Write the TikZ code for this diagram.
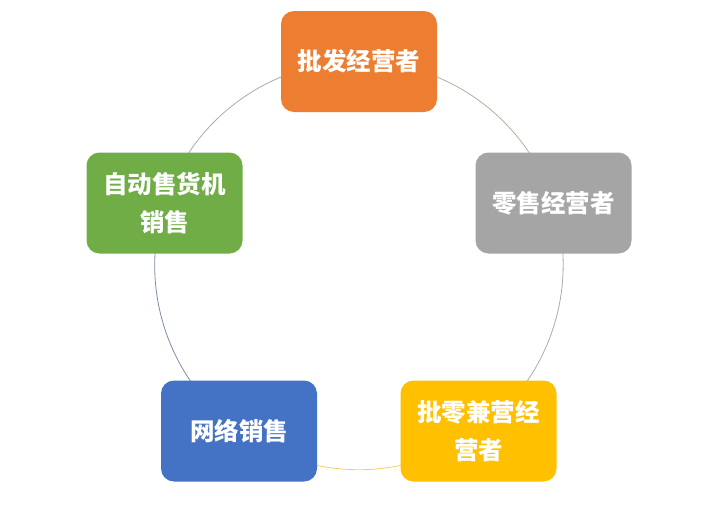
\documentclass[tikz,border=0pt]{standalone}
\usepackage{fontspec}
\newfontfamily\cjk{Noto Sans CJK SC}
\usetikzlibrary{backgrounds}
\definecolor{orange500}{HTML}{ED7D31}
\definecolor{grey500}  {HTML}{A5A5A5}
\definecolor{gold500}  {HTML}{FFC000}
\definecolor{blue500}  {HTML}{4472C4}
\definecolor{green500} {HTML}{70AD47}
\definecolor{arctan}   {HTML}{B8AC9E}
\definecolor{arcgrey}  {HTML}{ABABAB}
\definecolor{arcgold}  {HTML}{F5D15A}
\definecolor{arcblue}  {HTML}{7D8BA8}
\tikzset{
  role/.style ={rounded corners=13pt, minimum width=156pt,
                minimum height=101pt, inner sep=0pt, align=center,
                text=white, font=\cjk\bfseries\fontsize{24.5}{38}\selectfont},
  ring/.style ={line width=0.8pt, bend left=36, looseness=0.94}
}
\begin{document}
\begin{tikzpicture}[x=1pt, y=1pt]
\useasboundingbox (0,0) rectangle (720,-520);
\node[role, fill=orange500] (pf)  at (359,-61.5)  {批发经营者};
\node[role, fill=grey500]   (ls)  at (553.5,-203) {零售经营者};
\node[role, fill=gold500]   (plj) at (478.5,-431) {批零兼营经\\营者};
\node[role, fill=blue500]   (wl)  at (239,-431)   {网络销售};
\node[role, fill=green500]  (zd)  at (164.5,-203) {自动售货机\\销售};
% ring behind the boxes
\begin{scope}[on background layer]
\draw[ring, draw=arctan]  (pf.center)  to (ls.center);
\draw[ring, draw=arcgrey] (ls.center)  to (plj.center);
\draw[ring, draw=arcgold] (plj.center) to (wl.center);
\draw[ring, draw=arcblue] (wl.center)  to (zd.center);
\draw[ring, draw=arcgrey] (zd.center)  to (pf.center);
\end{scope}
\end{tikzpicture}
\end{document}
